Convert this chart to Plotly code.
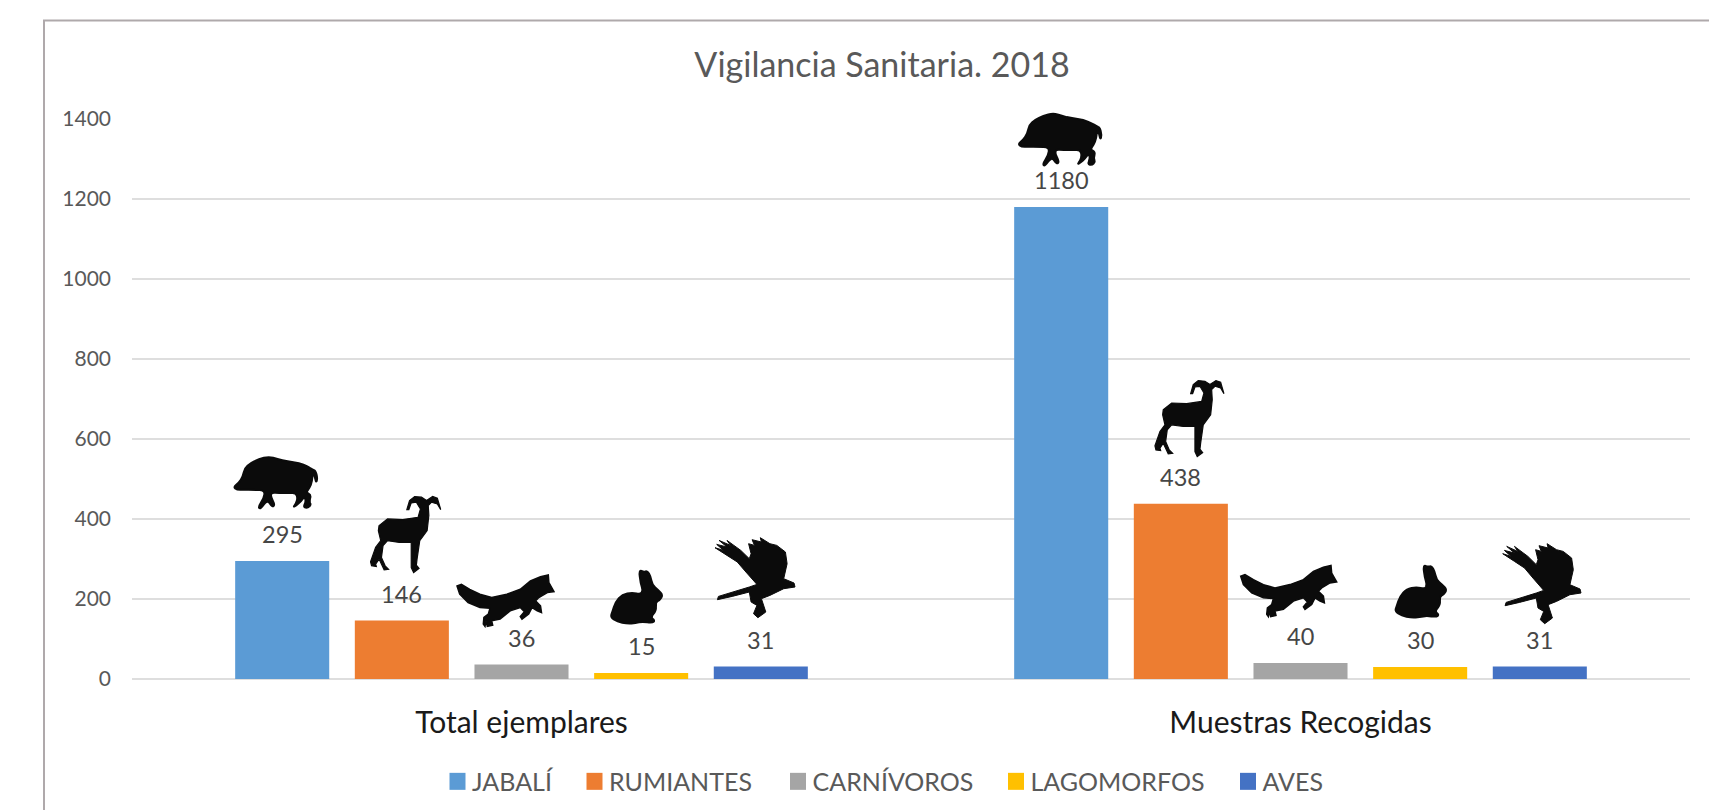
import plotly.graph_objects as go

categories = ["Total ejemplares", "Muestras Recogidas"]
series_names = ["JABALÍ", "RUMIANTES", "CARNÍVOROS", "LAGOMORFOS", "AVES"]
jabali = [295, 1180]
rumiantes = [146, 438]
carnivoros = [36, 40]
lagomorfos = [15, 30]
aves = [31, 31]
y_ticks = [0, 200, 400, 600, 800, 1000, 1200, 1400]
title_text = "Vigilancia Sanitaria. 2018"

series_values = [jabali, rumiantes, carnivoros, lagomorfos, aves]
colors = ["#5B9BD5", "#ED7D31", "#A5A5A5", "#FFC000", "#4472C4"]

# Silhouette outlines (decorative pictograms), in arbitrary drawing units, y down
BOAR = [(115,162),(130,150),(143,130),(148,105),(165,90),(190,78),(220,70),(245,78),(275,85),(310,90),(335,100),(350,110),(358,112),(364,135),(360,150),(355,125),(350,120),(348,145),(340,165),(330,178),(345,185),(340,205),(345,215),(335,225),(322,222),(330,205),(325,190),(315,205),(300,218),(292,222),(300,212),(305,195),(300,180),(280,180),(250,180),(228,178),(225,190),(238,215),(230,222),(215,200),(195,228),(188,222),(205,195),(208,172),(175,170),(145,170),(125,170)]
RAM = [(550,960),(575,940),(620,942),(665,935),(672,910),(660,890),(645,892),(638,912),(632,912),(640,885),(655,873),(675,875),(690,885),(708,873),(722,878),(732,912),(722,895),(705,890),(695,900),(697,930),(692,975),(670,1005),(662,1060),(660,1078),(668,1088),(652,1100),(645,1085),(645,1010),(610,1010),(575,1005),(562,1020),(557,1055),(568,1080),(578,1090),(565,1092),(550,1060),(540,1075),(542,1082),(528,1080),(525,1068),(540,1025),(555,1005),(548,975)]
FOX = [(62,140),(75,135),(100,150),(130,165),(165,175),(210,165),(250,150),(280,125),(310,112),(333,107),(335,130),(350,157),(330,160),(305,175),(295,185),(310,200),(313,220),(300,215),(285,205),(275,225),(255,240),(250,232),(262,218),(250,205),(220,215),(190,240),(165,245),(168,258),(152,262),(148,245),(145,262),(140,255),(142,235),(155,225),(160,207),(130,205),(95,190),(70,165)]
RABBIT = [(610,105),(625,112),(635,108),(645,125),(650,150),(668,165),(682,180),(672,195),(660,200),(662,225),(645,245),(658,255),(650,262),(620,258),(600,262),(575,264),(545,258),(525,245),(530,230),(540,200),(560,178),(590,172),(615,178),(622,165),(615,145)]
BIRD = [(857,228),(860,218),(950,190),(972,182),(940,145),(915,115),(885,95),(850,72),(875,80),(855,62),(885,70),(862,50),(895,65),(885,50),(925,80),(950,105),(955,90),(948,60),(965,65),(958,48),(985,55),(982,42),(1010,60),(1030,65),(1055,85),(1060,120),(1050,165),(1080,178),(1083,190),(1050,195),(1010,215),(985,225),(998,265),(975,282),(962,270),(972,245),(955,235),(950,205),(900,218)]
outlines = [BOAR, RAM, FOX, RABBIT, BIRD]
rounded = [True, False, False, True, False]
outline_widths = [2, 1.2, 1.5, 2, 1]

# Icon placement relative to each bar: left offset from bar centre, gap above bar top, width, height (px)
placement = [
    [(-48.7, 51.9, 84.0, 52.6), (-31.3, 48.1, 70.2, 76.0), (-64.5, 38.2, 97.0, 51.4), (-30.6, 49.3, 52.4, 54.0), (-45.8, 48.9, 80.0, 80.0)],
    [(-43.2, 40.8, 83.7, 53.0), (-25.9, 47.2, 69.0, 76.0), (-59.8, 46.3, 96.0, 51.3), (-25.2, 49.3, 52.0, 53.0), (-37.1, 42.9, 78.3, 80.0)],
]

# Layout in pixels of the 1709x810 page
W, H = 1709, 810
PL, PR, PT, PB = 132, 1690, 118.7, 679.3
pw, ph = PR - PL, PB - PT
px = lambda v: (v - PL) / pw
py = lambda v: (PB - v) / ph
Y_MAX = 1400
N_CATS = 2
LEGEND_LEFT = 437
legend_swatch_centres = [457.5, 594.5, 798, 1016, 1248]

FONT = "Lato, Carlito, Calibri, sans-serif"
SLOT = 0.1536

fig = go.Figure()
for name, vals, col in zip(series_names, series_values, colors):
    fig.add_bar(name=name, x=categories, y=vals, marker=dict(color=col, line=dict(width=0)),
                hoverinfo="x+y+name")

annotations = []
shapes = [dict(type="rect", xref="paper", yref="paper", x0=px(44), x1=px(1760), y0=py(20), y1=py(860),
               line=dict(color="#AFA9AB", width=2), fillcolor="rgba(0,0,0,0)", layer="below")]


def smooth_path(pts):
    mid = lambda a, b: ((a[0] + b[0]) / 2, (a[1] + b[1]) / 2)
    start = mid(pts[-1], pts[0])
    d = f"M{start[0]:.1f},{start[1]:.1f}"
    for i, p in enumerate(pts):
        m = mid(p, pts[(i + 1) % len(pts)])
        d += f" Q{p[0]:.1f},{p[1]:.1f} {m[0]:.1f},{m[1]:.1f}"
    return d + " Z"


def polygon_path(pts):
    return "M" + " L".join(f"{p[0]:.1f},{p[1]:.1f}" for p in pts) + " Z"


for s, vals in enumerate(series_values):
    for c, v in enumerate(vals):
        cx = c + (s - 2) * SLOT
        annotations.append(dict(x=cx, y=v, xref="x", yref="y", text=str(v), showarrow=False,
                                yshift=27, yanchor="middle", xanchor="center",
                                font=dict(family=FONT, size=23.5, color="#464646")))
        left, gap, w, h = placement[c][s]
        pts = outlines[s]
        xs = [p[0] for p in pts]
        ys = [p[1] for p in pts]
        x0, x1, y0, y1 = min(xs), max(xs), min(ys), max(ys)
        scaled = [(left + (p[0] - x0) / (x1 - x0) * w, gap + (y1 - p[1]) / (y1 - y0) * h) for p in pts]
        path = smooth_path(scaled) if rounded[s] else polygon_path(scaled)
        # Paper-anchored so that an icon may rise above the plot area without being clipped
        shapes.append(dict(type="path", xref="paper", yref="paper", xsizemode="pixel", ysizemode="pixel",
                           xanchor=(cx + 0.5) / N_CATS, yanchor=v / Y_MAX, path=path,
                           fillcolor="#0B0B0B", line=dict(width=outline_widths[s], color="#0B0B0B"), layer="above"))

fig.update_layout(
    width=W, height=H, autosize=False,
    margin=dict(l=PL, r=W - PR, t=PT, b=H - PB, pad=0, autoexpand=False),
    paper_bgcolor="white", plot_bgcolor="white",
    barmode="group", bargap=0.232, bargroupgap=0.214,
    font=dict(family=FONT, color="#595959"),
    title=dict(text=title_text, x=px(882), xref="paper", xanchor="center", y=1 - 65.5 / H, yref="container", yanchor="middle",
               font=dict(family=FONT, size=34, color="#595959")),
    legend=dict(orientation="h", x=px(LEGEND_LEFT), xanchor="left", y=py(782), yanchor="middle",
                font=dict(family=FONT, size=25, color="#595959"), traceorder="normal",
                bgcolor="rgba(0,0,0,0)"),
    annotations=annotations, shapes=shapes,
    xaxis=dict(type="category", categoryorder="array", categoryarray=categories, range=[-0.5, 1.5],
               showgrid=False, showline=False, ticks="", ticklabelstandoff=23,
               tickfont=dict(family=FONT, size=30, color="#1A1A1A")),
    yaxis=dict(range=[0, Y_MAX], tickvals=y_ticks, showgrid=True, gridcolor="#DEDEDE", gridwidth=1.5,
               zeroline=True, zerolinecolor="#DEDEDE", zerolinewidth=1.5, showline=False, ticks="",
               ticklabelstandoff=20, tickfont=dict(family=FONT, size=21, color="#595959")),
)

# Space the legend entries and size their swatches as in the reference
offsets = [c - LEGEND_LEFT - 20 for c in legend_swatch_centres]
post = """
document.body.style.margin='0';
document.documentElement.style.overflow='hidden';
var offs = %s;
document.querySelectorAll('.legend .scrollbox').forEach(function(b){b.removeAttribute('clip-path');});
document.querySelectorAll('.legend .traces').forEach(function(g,i){
  var m=(g.getAttribute('transform')||'').match(/translate\\(([^,]+),\\s*([^)]+)\\)/);
  var y=m?m[2]:0;
  g.setAttribute('transform','translate('+offs[i]+','+y+')');
  var t=g.querySelector('.legendtext'); if(t){t.setAttribute('x','34.5');}
  g.querySelectorAll('.legendpoints path').forEach(function(p){p.setAttribute('d','M8,8.5H-8V-8.5H8Z');});
});
""" % (offsets,)

fig.write_html("out.html", config={"displayModeBar": False}, post_script=post)
